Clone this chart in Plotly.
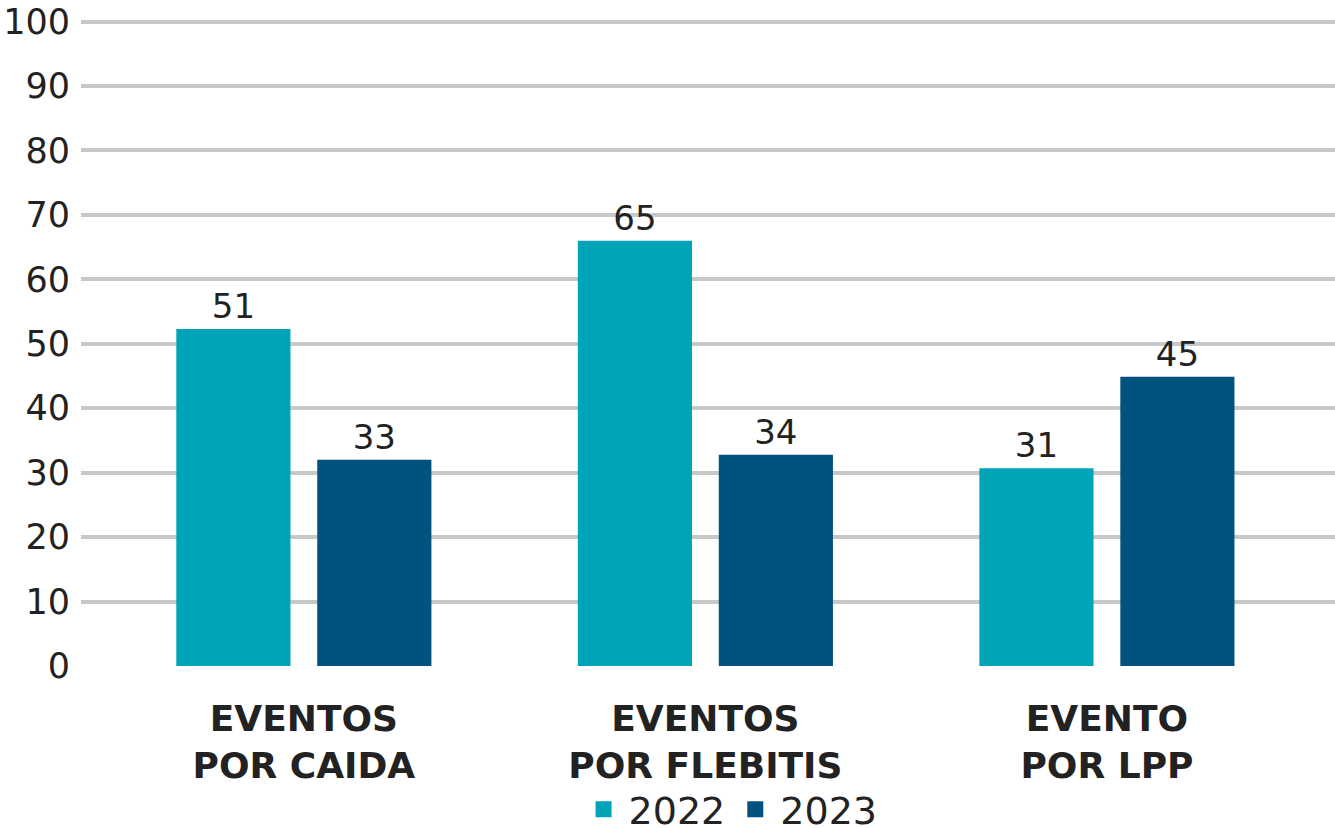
import plotly.graph_objects as go

categories = ["EVENTOS<br>POR CAIDA", "EVENTOS<br>POR FLEBITIS", "EVENTO<br>POR LPP"]
series_names = ["2022", "2023"]
heights_2022 = [52.3, 66.0, 30.7]
heights_2023 = [32.0, 32.8, 44.9]
labels_2022 = ["51", "65", "31"]
labels_2023 = ["33", "34", "45"]
colors = ["#00A4B9", "#00527F"]
y_ticks = [0, 10, 20, 30, 40, 50, 60, 70, 80, 90, 100]

FONT = "DejaVu Sans"
TXT = "#222222"

fig = go.Figure()
xs = list(range(len(categories)))
for name, h, lab, col in [(series_names[0], heights_2022, labels_2022, colors[0]),
                          (series_names[1], heights_2023, labels_2023, colors[1])]:
    fig.add_trace(go.Bar(
        x=xs, y=h, name=name, marker=dict(color=col, line=dict(width=0)),
        text=lab, textposition="outside", cliponaxis=False,
        textfont=dict(family=FONT, size=34, color=TXT),
        showlegend=False,
    ))
    fig.add_trace(go.Scatter(
        x=[None], y=[None], mode="markers", name=name,
        marker=dict(symbol="square", size=22, color=col),
    ))

fig.update_layout(
    width=1335, height=828,
    margin=dict(l=81, r=0, t=19, b=162, autoexpand=False),
    paper_bgcolor="white", plot_bgcolor="white",
    barmode="group", bargap=0.298, bargroupgap=0.19,
    font=dict(family=FONT, color=TXT),
    xaxis=dict(
        tickmode="array", tickvals=xs, ticktext=[f"<b>{c}</b>" for c in categories],
        range=[-0.555, 2.568], showgrid=False, zeroline=False, showline=False,
        tickfont=dict(family=FONT, size=36, color=TXT), ticks="", ticklen=0,
        automargin=False, ticklabelstandoff=28,
    ),
    yaxis=dict(
        range=[0, 100.4], tickvals=y_ticks, showgrid=True, gridcolor="#C8C8C8", gridwidth=4,
        zeroline=False, showline=False, ticks="", ticklabelstandoff=10,
        tickfont=dict(family=FONT, size=35, color=TXT), automargin=False,
    ),
    legend=dict(
        orientation="h", x=0.518, xanchor="center", y=-0.222, yanchor="middle",
        font=dict(family=FONT, size=38, color=TXT), itemwidth=40,
        traceorder="normal", bgcolor="rgba(0,0,0,0)",
    ),
)

post = (
    "var h=document.documentElement,b=document.body;"
    "[h,b].forEach(function(e){e.style.margin='0';e.style.padding='0';"
    "e.style.overflow='hidden';e.style.height='828px';e.style.width='1335px';});"
)
fig.write_html("out.html", config={"displayModeBar": False}, post_script=post)
